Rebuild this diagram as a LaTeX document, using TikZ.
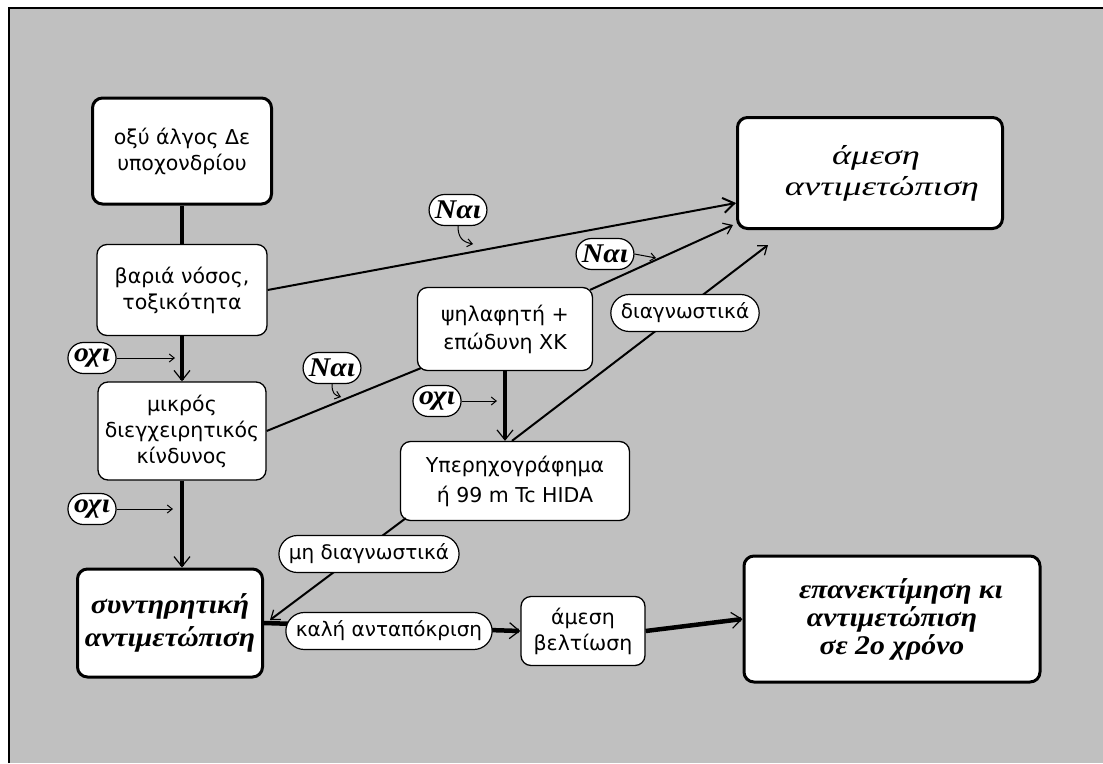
\documentclass[tikz,border=0pt]{standalone}
\usepackage{fontspec}
\setmainfont{DejaVu Sans}
\newfontfamily\itfont[FakeStretch=1.1]{Liberation Serif}
\newfontfamily\wideit[FakeStretch=1.35]{Liberation Serif}
\usetikzlibrary{arrows.meta,shapes.misc}

\definecolor{panel}{HTML}{C0C0C0}

\tikzset{
  box/.style={draw, fill=white, rounded corners=10pt, line width=1.3pt, align=center,
    inner sep=2pt, font=\fontsize{20.5}{26}\selectfont},
  heavy/.style={line width=3pt},
  bolditext/.style={font=\itfont\bfseries\itshape\fontsize{27}{33}\selectfont},
  itext/.style={font=\wideit\itshape\fontsize{27}{31}\selectfont},
  pill/.style={draw, fill=white, rounded rectangle, line width=1.2pt, inner xsep=7pt,
    inner ysep=2pt, minimum height=37pt, font=\fontsize{20}{22}\selectfont},
  answer/.style={pill, minimum height=31pt, inner xsep=3pt,
    font=\itfont\bfseries\itshape\fontsize{27}{28}\selectfont},
  flow/.style={line width=4.5pt, -{Straight Barb[line width=1.2pt,length=10pt,width=16pt]}},
  link/.style={line width=2pt},
  tip/.style={-{Straight Barb[line width=1.2pt,length=8pt,width=12pt]}},
  hint/.style={line width=1pt, -{Straight Barb[line width=1pt,length=5pt,width=8pt]}},
}

\begin{document}
\begin{tikzpicture}[x=1pt,y=-1pt]
% canvas and frame
\useasboundingbox (0,0) rectangle (1103,763);
\fill[white] (0,0) rectangle (1103,763);
\fill[panel] (9,8) rectangle (1103,763);
\draw[line width=2.5pt] (9,763) -- (9,8) -- (1103,8);

% boxes
\node[box, heavy, minimum width=179pt, minimum height=106pt] (pain) at (182,151) {οξύ άλγος Δε\\υποχονδρίου};
\node[box, minimum width=170pt, minimum height=91pt] (severe) at (182,290) {βαριά νόσος,\\τοξικότητα};
\node[box, minimum width=168pt, minimum height=98pt] (risk) at (182,431) {μικρός\\διεγχειρητικός\\κίνδυνος};
\node[box, heavy, bolditext, minimum width=185pt, minimum height=108pt] (conserv) at (170,623) {συντηρητική\\αντιμετώπιση};
\node[box, heavy, itext, minimum width=265pt, minimum height=111pt] (urgent) at (870,173) {\hspace*{12pt}άμεση\\\hspace*{24pt}αντιμετώπιση};
\node[box, heavy, bolditext, font=\itfont\bfseries\itshape\fontsize{27}{28}\selectfont,
  minimum width=296pt, minimum height=126pt] (review) at (892,619) {\hspace*{18pt}επανεκτίμηση κι\\αντιμετώπιση\\σε 2ο χρόνο};
\node[box, minimum width=175pt, minimum height=83pt, font=\fontsize{20.5}{28}\selectfont] (palp) at (505,329) {ψηλαφητή +\\επώδυνη ΧΚ};
\node[box, minimum width=229pt, minimum height=79pt, font=\fontsize{20.5}{30}\selectfont] (scan) at (515,481) {Υπερηχογράφημα\\ή 99 m Tc HIDA};
\node[box, minimum width=124pt, minimum height=69pt] (better) at (583,631) {άμεση\\βελτίωση};

% main flow
\draw[line width=4.5pt] (pain.south) -- (severe.north);
\draw[flow] (severe.south) -- (risk.north);
\draw[flow] (risk.south) -- (risk.south |- conserv.north);
\draw[flow] (palp.south) -- (palp.south |- scan.north);
\draw[flow] (conserv.east) -- (better.west);
\draw[flow] (better.east) -- (review.west);

% diagonal links
\draw[link, -{Straight Barb[line width=2pt,length=11pt,width=15pt]}] (severe.east) -- ([yshift=-30pt]urgent.west);
\draw[link] (risk.east) -- ([shift={(4pt,3pt)}]palp.south west);
\draw[link, tip] ([shift={(-3pt,-3pt)}]palp.north east) -- ([shift={(-3pt,-52pt)}]urgent.west);
\draw[link, tip] ([xshift=-3pt]scan.north) -- ([shift={(32pt,-15pt)}]urgent.south west);
\draw[link, tip] ([shift={(6pt,3pt)}]scan.south west) -- ([shift={(6pt,3pt)}]conserv.east);

% labels on the links
\node[pill] (diag) at (685,313) {διαγνωστικά};
\node[pill] (nodiag) at (369,554) {μη διαγνωστικά};
\node[pill] (good) at (389,631) {καλή ανταπόκριση};

% answers
\node[answer] (yes1) at (458,210) {Ναι};
\node[answer] (yes2) at (605,254) {Ναι};
\node[answer] (yes3) at (332,368) {Ναι};
\node[answer] (no1) at (92,358) {οχι};
\node[answer] (no2) at (92,509) {οχι};
\node[answer] (no3) at (437,401) {οχι};

\coordinate (hit1) at (473,244);
\coordinate (hit2) at (656,258);
\coordinate (hit3) at (341,397);
\draw[hint] (yes1.south) .. controls +(0,12) and +(-10,-2) .. (hit1);
\draw[hint] (yes2.east) -- (hit2);
\draw[hint] (yes3.south) .. controls +(0,10) and +(-6,-2) .. (hit3);
\draw[hint, shorten >=7pt] (no1.east) -- (no1.east -| severe.south);
\draw[hint, shorten >=9pt] (no2.east) -- (no2.east -| risk.south);
\draw[hint, shorten >=8pt] (no3.east) -- (no3.east -| palp.south);
\end{tikzpicture}
\end{document}
